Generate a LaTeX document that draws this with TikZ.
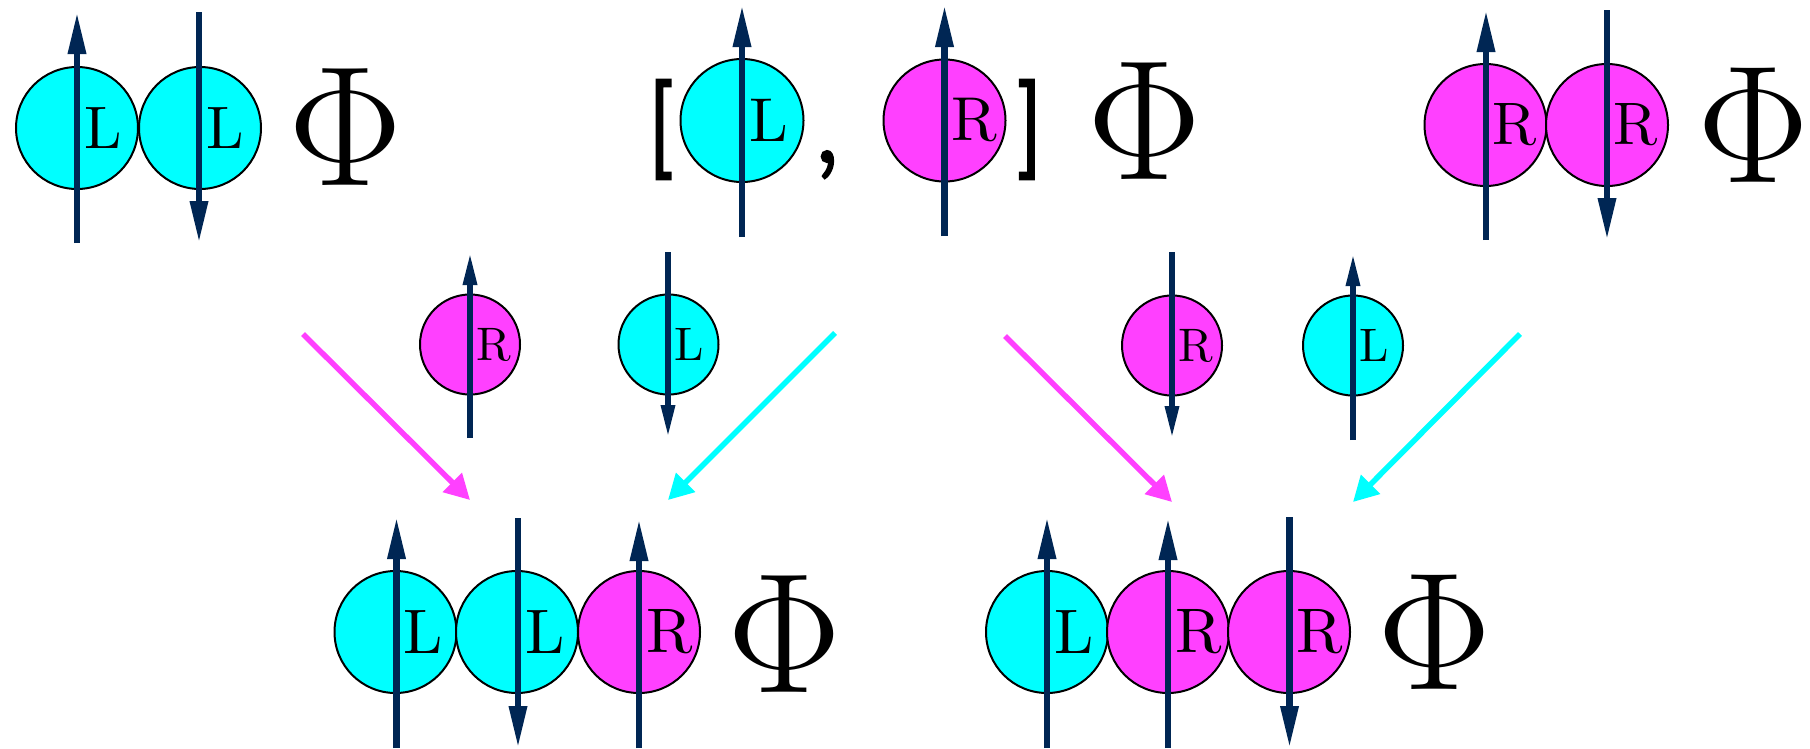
\RequirePackage{fix-cm}
\documentclass[tikz,border=0pt]{standalone}
\usepackage{graphicx}
\usetikzlibrary{arrows.meta,shapes.geometric}
\definecolor{spinblue}{RGB}{0,38,84}
\definecolor{lcol}{RGB}{0,255,255}
\definecolor{rcol}{RGB}{255,64,255}
\font\heavyfont="[lmroman10-regular]:embolden=5" at 10pt
\newcommand{\bigphi}{{\fontsize{171}{171}\selectfont$\Phi$}}
\tikzset{
  part/.style={circle, draw=black, line width=2pt, inner sep=0pt},
  lpart/.style={part, fill=lcol},
  rpart/.style={part, fill=rcol},
  bigsize/.style={minimum size=122pt},
  midsize/.style={minimum size=100pt},
  spinbig/.style={draw=spinblue, line width=6.5pt, -{Triangle[length=42pt,width=17pt]}},
  spinsmall/.style={draw=spinblue, line width=6pt, -{Triangle[length=33pt,width=13pt]}},
  lab/.style={anchor=west, inner sep=0pt},
  phinode/.style={inner sep=0pt},
  feedm/.style={draw=rcol, line width=5.5pt, -{Triangle[length=25pt,width=26pt]}},
  feedc/.style={draw=lcol, line width=5.5pt, -{Triangle[length=25pt,width=26pt]}},
}
\begin{document}
\begin{tikzpicture}[x=1pt,y=-1pt]
\useasboundingbox (0,0) rectangle (1810,748);

% ---------- top left: L L Phi ----------
\node[lpart,bigsize] (a1) at (77,128) {};
\node[lpart,bigsize] (a2) at (200,128) {};
\coordinate (a1b) at (77,243); \coordinate (a1t) at (77,12);
\coordinate (a2t) at (199,12); \coordinate (a2b) at (199,243);
\draw[spinbig] (a1b) -- (a1t);
\draw[spinbig] (a2t) -- (a2b);
\node[lab] (a1l) at (84,128) {\scalebox{6}{L}};
\node[lab] (a2l) at (206,128) {\scalebox{6}{L}};
\node[phinode] (aphi) at (345.5,127.5) {\bigphi};

% ---------- top middle: [ L , R ] Phi ----------
\node[phinode] (lbr) at (659.5,129.5) {\scalebox{8.6}[9.7]{\heavyfont [}};
\node[lpart,minimum size=123pt] (b1) at (742,120.5) {};
\node[rpart,minimum size=122pt] (b2) at (944.5,120.5) {};
\node[phinode] (comma) at (827,164.5) {\scalebox{8}[8.3]{\heavyfont ,}};
\node[phinode] (rbr) at (1031,129.5) {\scalebox{8.6}[9.7]{\heavyfont ]}};
\coordinate (b1b) at (742,237); \coordinate (b1t) at (742,5);
\coordinate (b2b) at (944.5,236); \coordinate (b2t) at (944.5,5);
\draw[spinbig] (b1b) -- (b1t);
\draw[spinbig] (b2b) -- (b2t);
\node[lab] (b1l) at (749,120.5) {\scalebox{6.2}{L}};
\node[lab] (b2l) at (951.5,120.5) {\scalebox{6.2}{R}};
\node[phinode] (bphi) at (1144.5,121.5) {\bigphi};

% ---------- top right: R R Phi ----------
\node[rpart,bigsize] (c1) at (1485.5,125) {};
\node[rpart,bigsize] (c2) at (1607,125) {};
\coordinate (c1b) at (1486,240); \coordinate (c1t) at (1486,10);
\coordinate (c2t) at (1607,10); \coordinate (c2b) at (1607,240);
\draw[spinbig] (c1b) -- (c1t);
\draw[spinbig] (c2t) -- (c2b);
\node[lab] (c1l) at (1492,125) {\scalebox{6}{R}};
\node[lab] (c2l) at (1613,125) {\scalebox{6}{R}};
\node[phinode] (cphi) at (1753,125.5) {\scalebox{0.98}{\bigphi}};

% ---------- middle row ----------
\node[rpart,midsize] (d1) at (470,344.5) {};
\node[lpart,midsize] (d2) at (668.5,344.5) {};
\coordinate (d1b) at (470,438); \coordinate (d1t) at (470,252);
\coordinate (d2t) at (668,252); \coordinate (d2b) at (668,438);
\draw[spinsmall] (d1b) -- (d1t);
\draw[spinsmall] (d2t) -- (d2b);
\node[lab] (d1l) at (476,344.5) {\scalebox{4.7}{R}};
\node[lab] (d2l) at (674,344.5) {\scalebox{4.7}{L}};

\node[rpart,midsize] (e1) at (1172,345.5) {};
\node[lpart,midsize] (e2) at (1353,345.5) {};
\coordinate (e1t) at (1172,252); \coordinate (e1b) at (1172,439);
\coordinate (e2b) at (1353,440); \coordinate (e2t) at (1353,253);
\draw[spinsmall] (e1t) -- (e1b);
\draw[spinsmall] (e2b) -- (e2t);
\node[lab] (e1l) at (1178,345.5) {\scalebox{4.7}{R}};
\node[lab] (e2l) at (1359,345.5) {\scalebox{4.7}{L}};

% ---------- feeding arrows ----------
\coordinate (m1s) at (303,334); \coordinate (m1e) at (470,500);
\coordinate (k1s) at (835,333); \coordinate (k1e) at (668,500);
\coordinate (m2s) at (1005,336); \coordinate (m2e) at (1172,502);
\coordinate (k2s) at (1520,334); \coordinate (k2e) at (1353,502);
\draw[feedm] (m1s) -- (m1e);
\draw[feedc] (k1s) -- (k1e);
\draw[feedm] (m2s) -- (m2e);
\draw[feedc] (k2s) -- (k2e);

% ---------- bottom left: L L R Phi ----------
\node[lpart,bigsize] (f1) at (395.5,632) {};
\node[lpart,bigsize] (f2) at (517,632) {};
\node[rpart,bigsize] (f3) at (639,632) {};
\coordinate (f1b) at (396.5,748); \coordinate (f1t) at (396.5,517);
\coordinate (f2t) at (518,518); \coordinate (f2b) at (518,748);
\coordinate (f3b) at (639,748); \coordinate (f3t) at (639,519);
\draw[spinbig] (f1b) -- (f1t);
\draw[spinbig] (f2t) -- (f2b);
\draw[spinbig] (f3b) -- (f3t);
\node[lab] (f1l) at (403,632) {\scalebox{6.3}{L}};
\node[lab] (f2l) at (525,632) {\scalebox{6.3}{L}};
\node[lab] (f3l) at (646,632) {\scalebox{6.3}{R}};
\node[phinode] (fphi) at (784.5,634.5) {\bigphi};

% ---------- bottom right: L R R Phi ----------
\node[lpart,bigsize] (g1) at (1047,632) {};
\node[rpart,bigsize] (g2) at (1168,632) {};
\node[rpart,bigsize] (g3) at (1289,632) {};
\coordinate (g1b) at (1047,748); \coordinate (g1t) at (1047,517);
\coordinate (g2b) at (1168,748); \coordinate (g2t) at (1168,518);
\coordinate (g3t) at (1289.5,517); \coordinate (g3b) at (1289.5,748);
\draw[spinbig] (g1b) -- (g1t);
\draw[spinbig] (g2b) -- (g2t);
\draw[spinbig] (g3t) -- (g3b);
\node[lab] (g1l) at (1054,632) {\scalebox{6.3}{L}};
\node[lab] (g2l) at (1175,632) {\scalebox{6.3}{R}};
\node[lab] (g3l) at (1296.5,632) {\scalebox{6.3}{R}};
\node[phinode] (gphi) at (1435,632.5) {\scalebox{1}[0.98]{\bigphi}};
\end{tikzpicture}
\end{document}
